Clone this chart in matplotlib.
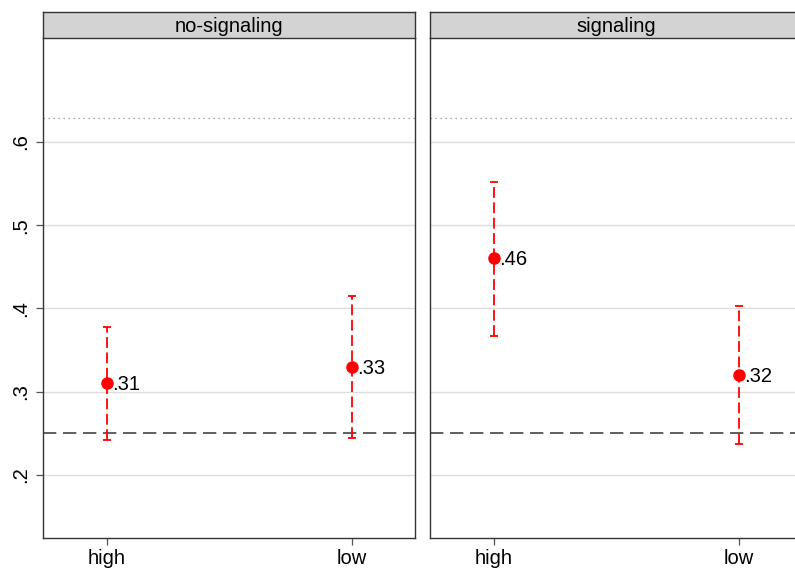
import matplotlib
matplotlib.use("Agg")
import matplotlib.pyplot as plt

plt.rcParams['font.family'] = ['Liberation Sans', 'DejaVu Sans']

panels = ["no-signaling", "signaling"]
categories = ["high", "low"]
means = {"no-signaling": [0.31, 0.33], "signaling": [0.46, 0.32]}
ci_low = {"no-signaling": [0.242, 0.244], "signaling": [0.367, 0.237]}
ci_high = {"no-signaling": [0.378, 0.415], "signaling": [0.552, 0.403]}
labels = {"no-signaling": [".31", ".33"], "signaling": [".46", ".32"]}
ref_dotted = 0.629
ref_dashed = 0.25
yticks = [0.2, 0.3, 0.4, 0.5, 0.6]
yticklabels = [".2", ".3", ".4", ".5", ".6"]

W, H = 795, 568
fig = plt.figure(figsize=(W / 100, H / 100), dpi=100)

lefts = [43, 430]
pw = 372
top_px, bot_px = 38, 538
header_h = 26
fs = 14.5

for i, (p, lx) in enumerate(zip(panels, lefts)):
    ax = fig.add_axes([lx / W, (H - bot_px) / H, pw / W, (bot_px - top_px) / H])
    ax.set_xlim(-0.261, 1.257)
    ax.set_ylim(0.124, 0.725)
    x = list(range(len(categories)))
    for yt in yticks:
        ax.axhline(yt, color='#dcdcdc', lw=1.0, zorder=0)
    ax.axhline(ref_dotted, color='#8c8c8c', lw=0.9, ls=(0, (1, 3)), zorder=1)
    ax.axhline(ref_dashed, color='#444444', lw=1.2, ls=(0, (8, 4)), zorder=1)
    m = means[p]
    lo = [mm - l for mm, l in zip(m, ci_low[p])]
    hi = [h - mm for mm, h in zip(m, ci_high[p])]
    eb = ax.errorbar(x, m, yerr=[lo, hi], fmt='none', ecolor='red', elinewidth=1.3,
                     capsize=2.7, capthick=1.3, zorder=3)
    eb[2][0].set_linestyle((0, (6, 2.5)))
    ax.plot(x, m, 'o', color='red', ms=8, zorder=4)
    for xi, mi, lab in zip(x, m, labels[p]):
        ax.annotate(lab, (xi, mi), xytext=(4, -1), textcoords='offset points',
                    va='center', ha='left', fontsize=fs, color='black')
    ax.set_xticks(x)
    ax.set_xticklabels(categories, fontsize=fs)
    ax.tick_params(axis='x', length=5, width=0.9, color='#555555', pad=3)
    for s in ax.spines.values():
        s.set_color('#333333')
        s.set_linewidth(1.0)
    ax.spines['top'].set_visible(False)
    if i == 0:
        ax.set_yticks(yticks)
        ax.set_yticklabels(yticklabels, rotation=90, va='center', fontsize=fs)
        ax.tick_params(axis='y', length=5, width=0.9, color='#555555', pad=4)
    else:
        ax.set_yticks([])
    # header strip
    hx = fig.add_axes([lx / W, (H - top_px) / H, pw / W, header_h / H])
    hx.set_xticks([]); hx.set_yticks([])
    hx.set_facecolor('#d3d3d3')
    for s in hx.spines.values():
        s.set_color('#333333')
        s.set_linewidth(1.0)
    hx.text(0.5, 0.45, p, ha='center', va='center', fontsize=fs, transform=hx.transAxes)

fig.savefig('out.png', dpi=100)
